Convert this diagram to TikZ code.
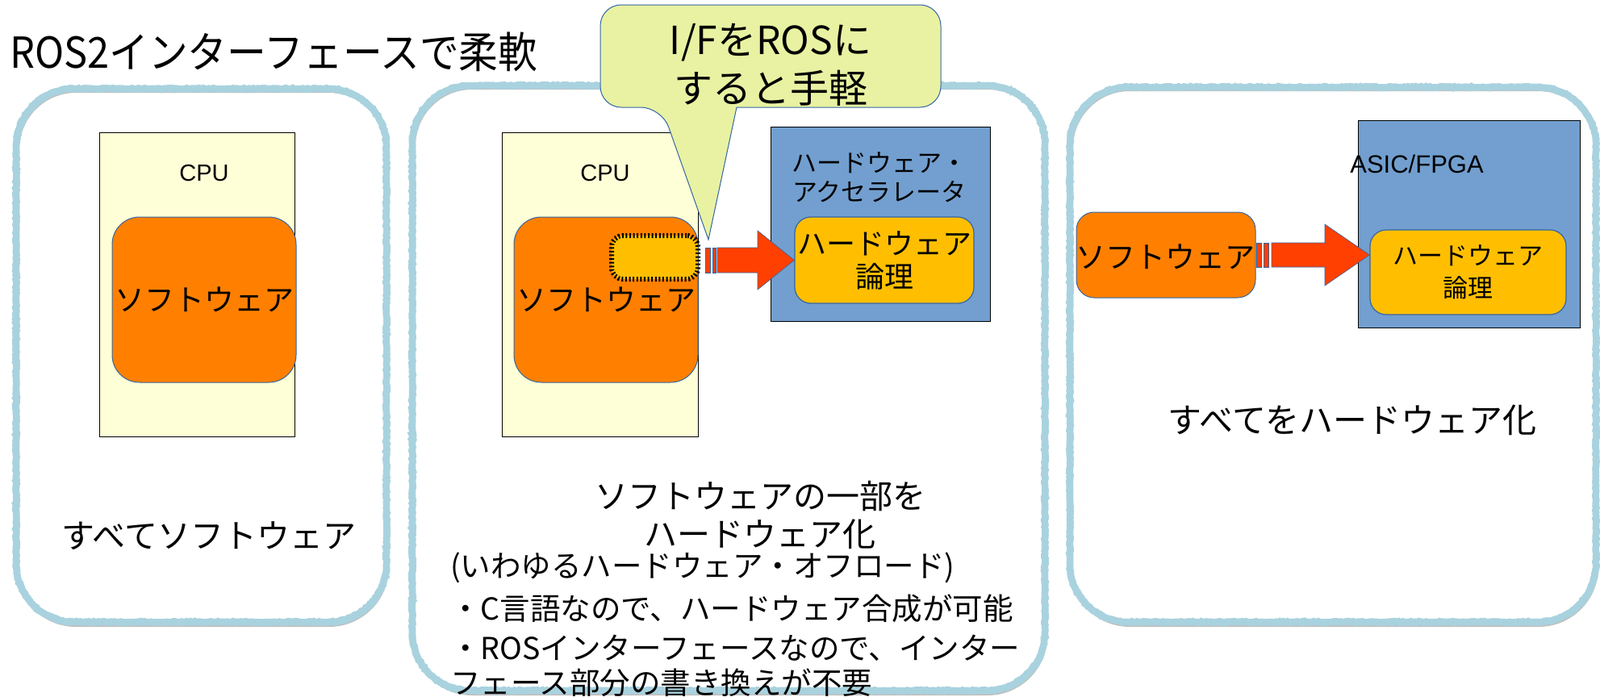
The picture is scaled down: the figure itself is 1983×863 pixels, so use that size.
\documentclass[tikz,border=0pt]{standalone}
\usepackage{fontspec}
\setmainfont{Noto Sans CJK JP}
\newfontfamily\lat{Liberation Sans}
\newfontfamily\titlefont[FakeStretch=0.92]{Noto Sans CJK JP}
\usetikzlibrary{decorations.pathmorphing}
\definecolor{cpuY}{HTML}{FFFFD7}
\definecolor{swO}{HTML}{FF8000}
\definecolor{hwY}{HTML}{FFBF00}
\definecolor{accB}{HTML}{729FCF}
\definecolor{edgeB}{HTML}{3465A4}
\definecolor{callG}{HTML}{E8F2A2}
\definecolor{arrR}{HTML}{FF4000}
\definecolor{panelB}{HTML}{B2D8E4}
\definecolor{panelD}{HTML}{A9D2DF}
\newcommand\panelpath[4]{(#1+72,#2) -- (#3-72,#2) arc[start angle=90,end angle=0,radius=72pt] -- (#3,#4-72) arc[start angle=0,end angle=-90,radius=72pt] -- (#1+72,#4) arc[start angle=-90,end angle=-180,radius=72pt] -- (#1,#2+72) arc[start angle=180,end angle=90,radius=72pt] -- cycle}
\tikzset{
  panelbase/.style={draw=panelB, line width=8pt},
  paneltex/.style={draw=panelD, line width=8.5pt, decorate,
     decoration={random steps, segment length=2.5pt, amplitude=0.9pt}},
  panelshadow/.style={draw=black!25, line width=4pt},
  cpubox/.style={draw=black, line width=0.8pt, fill=cpuY, rectangle},
  accbox/.style={draw=black, line width=0.9pt, fill=accB, rectangle},
  swbox/.style={draw=edgeB, line width=1pt, fill=swO, rectangle, rounded corners=34pt, inner sep=0pt},
  hwbox/.style={draw=edgeB, line width=1.2pt, fill=hwY, rectangle, rounded corners=20pt, inner sep=0pt, align=center},
  ifbox/.style={draw=black, line width=6pt, dash pattern=on 2pt off 2.6pt, fill=hwY, rectangle, rounded corners=14pt},
  arrowfill/.style={fill=arrR, draw=edgeB, line width=0.6pt},
  callout/.style={fill=callG, draw=edgeB, line width=1pt},
  lbl/.style={font=\lat\fontsize{29pt}{34pt}\selectfont, inner sep=0pt},
  jp/.style={font=\fontsize{#1pt}{#1pt}\selectfont, inner sep=0pt},
}
\begin{document}
\begin{tikzpicture}[x=1pt,y=-1pt]
\useasboundingbox[fill=white] (0,0) rectangle (1983,863);

% panels
\foreach \l/\t/\r/\b in {20/110/479/771, 511/106/1295/856, 1326/108/1978/771}{
  \draw[panelshadow] \panelpath{\l+2}{\t+3}{\r+1}{\b+4};
  \draw[panelbase] \panelpath{\l}{\t}{\r}{\b};
  \draw[paneltex] \panelpath{\l}{\t}{\r}{\b};
}

% title
\node[anchor=west, inner sep=0pt, font=\titlefont\fontsize{53pt}{60pt}\selectfont] (title) at (12,64) {ROS2インターフェースで柔軟};

% panel 1
\node[cpubox, minimum width=242pt, minimum height=377pt] (cpu1) at (244,352.5) {};
\node[lbl] (cpu1lbl) at (253,215) {CPU};
\node[swbox, minimum width=228pt, minimum height=205pt, jp=37] (sw1) at (253,371.5) {ソフトウェア};
\node[jp=41] (allsw) at (259,664) {すべてソフトウェア};

% panel 2
\node[cpubox, minimum width=243pt, minimum height=377pt] (cpu2) at (743.5,352.5) {};
\node[lbl] (cpu2lbl) at (750,215) {CPU};
\node[swbox, minimum width=228pt, minimum height=205pt, jp=37] (sw2) at (751,371.5) {\raisebox{-16pt}{ソフトウェア}};
\node[ifbox, minimum width=107pt, minimum height=54pt] (ifpart) at (811.5,319) {};
\node[accbox, minimum width=272pt, minimum height=241pt] (acc) at (1091,277.5) {};
\node[jp=31, align=center, font=\fontsize{31pt}{36pt}\selectfont] (acclbl) at (1090,220) {ハードウェア・\\アクセラレータ};
\node[hwbox, minimum width=222pt, minimum height=107pt, font=\fontsize{36pt}{41pt}\selectfont] (hwl2) at (1096,322.5) {ハードウェア\\論理};

% striped arrow 2
\draw[arrowfill] (874,307) rectangle (880,338);
\draw[arrowfill] (883,307) rectangle (887,338);
\draw[arrowfill] (889,307) -- (939,307) -- (939,286) -- (hwl2.west) -- (939,359) -- (939,338) -- (889,338) -- cycle;

% callout
\coordinate (tip) at (878,297);
\draw[callout] (820,133) -- (tip) -- (913,133) [rounded corners=26pt] -- (1166,133) -- (1166,6) -- (744,6) -- (744,133) -- cycle;
\node[align=center, inner sep=0pt, font=\fontsize{48pt}{60pt}\selectfont] (calltext) at (955,80) {I/FをROSに\\すると手軽};

% panel 2 texts
\node[align=center, inner sep=0pt, font=\fontsize{41pt}{47pt}\selectfont] (mid) at (942,638) {ソフトウェアの一部を\\ハードウェア化};
\node[anchor=west, jp=37.5] (l1) at (558,704) {(いわゆるハードウェア・オフロード)};
\node[anchor=west, jp=37.5] (l2) at (558,754) {・C言語なので、ハードウェア合成が可能};
\node[anchor=west, jp=37.5] (l3) at (558,803) {・ROSインターフェースなので、インター};
\node[anchor=west, jp=37.5] (l4) at (558,846) {フェース部分の書き換えが不要};

% panel 3
\node[swbox, rounded corners=22pt, minimum width=222pt, minimum height=106pt] (sw3) at (1445,316) {};
\node[jp=37] (sw3lbl) at (1444,318) {ソフトウェア};
\node[accbox, minimum width=275pt, minimum height=257pt] (asic) at (1820.5,277.5) {};
\node[font=\lat\fontsize{31pt}{36pt}\selectfont, inner sep=0pt] (asiclbl) at (1756,203) {ASIC/FPGA};
\node[hwbox, minimum width=243pt, minimum height=105pt, font=\fontsize{31pt}{40pt}\selectfont] (hwl3) at (1819.5,337.5) {ハードウェア\\論理};

\draw[arrowfill] (1557,301) rectangle (1563,331);
\draw[arrowfill] (1566,301) rectangle (1572,331);
\draw[arrowfill] (1576,301) -- (1642,301) -- (1642,278) -- (hwl3.west |- sw3.east) -- (1642,354) -- (1642,331) -- (1576,331) -- cycle;

\node[jp=42] (allhw) at (1676,521) {すべてをハードウェア化};
\end{tikzpicture}
\end{document}
